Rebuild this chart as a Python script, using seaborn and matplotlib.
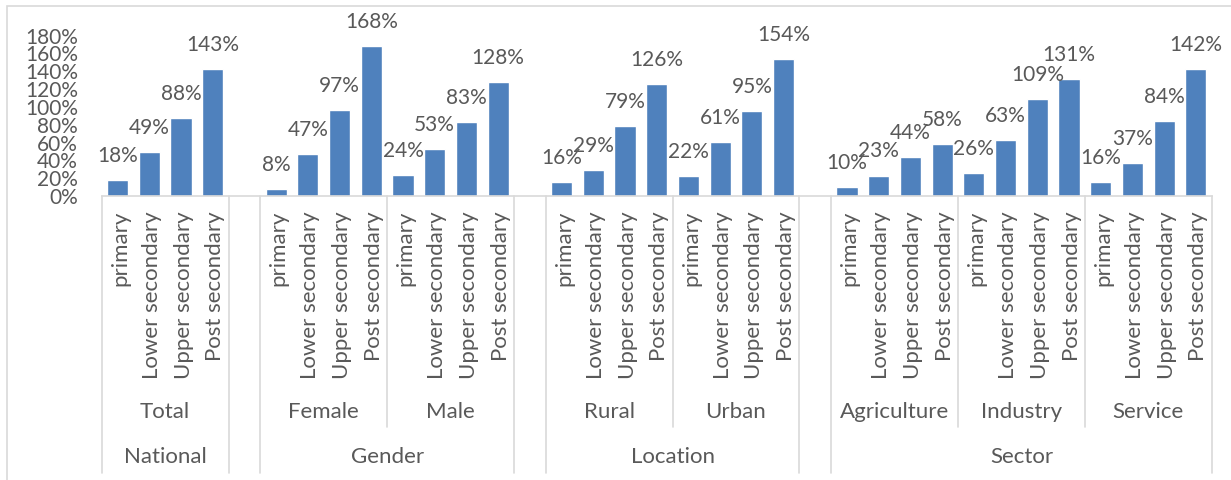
import matplotlib
matplotlib.use("Agg")
import matplotlib.pyplot as plt
import matplotlib.transforms as mtransforms
from matplotlib.patches import Rectangle
import seaborn as sns
import pandas as pd

# ---- data ----
levels = ["primary", "Lower secondary", "Upper secondary", "Post secondary"]
groups = ["National", "Gender", "Location", "Sector"]
subgroups = {
    "National": ["Total"],
    "Gender": ["Female", "Male"],
    "Location": ["Rural", "Urban"],
    "Sector": ["Agriculture", "Industry", "Service"],
}
total = [18, 49, 88, 143]
female = [8, 47, 97, 168]
male = [24, 53, 83, 128]
rural = [16, 29, 79, 126]
urban = [22, 61, 95, 154]
agriculture = [10, 23, 44, 58]
industry = [26, 63, 109, 131]
service = [16, 37, 84, 142]
values = {
    "Total": total, "Female": female, "Male": male, "Rural": rural,
    "Urban": urban, "Agriculture": agriculture, "Industry": industry,
    "Service": service,
}

# ---- build frame and category order (blank slot between top-level groups) ----
rows = []
order = []
sub_spans = []   # (name, start, end)
grp_spans = []   # (name, start, end)
for gi, g in enumerate(groups):
    if gi > 0:
        order.append(" " * gi)
    gstart = len(order)
    for s in subgroups[g]:
        sstart = len(order)
        for lev, v in zip(levels, values[s]):
            key = f"{s}|{lev}"
            order.append(key)
            rows.append({"key": key, "value": v, "level": lev})
        sub_spans.append((s, sstart, len(order) - 1))
    grp_spans.append((g, gstart, len(order) - 1))
df = pd.DataFrame(rows)

# ---- style ----
sns.set_style("white")
plt.rcParams["font.family"] = ["Lato", "DejaVu Sans"]
txt = "#595959"
line_c = "#D9D9D9"
fs_num = 15
fs_cat = 16

fig = plt.figure(figsize=(12.31, 4.8), dpi=100)
fig.patches.append(Rectangle((7 / 1231, -0.05), 1.0, (480 - 6) / 480 + 0.05,
                             transform=fig.transFigure, fill=False,
                             edgecolor=line_c, lw=1.2, zorder=0))
ax = fig.add_axes([101.7 / 1231, (480 - 196) / 480, 1110 / 1231, 160.4 / 480])

sns.barplot(data=df, x="key", y="value", order=order, color="#4F81BD",
            saturation=1, width=0.665, ax=ax, errorbar=None)

ax.set_xlim(-0.5, len(order) - 0.5)
ax.set_ylim(0, 180)
ax.set_xlabel("")
ax.set_ylabel("")
ax.set_xticks([])
ax.set_yticks(range(0, 181, 20))
ax.set_yticklabels([f"{v}%" for v in range(0, 181, 20)], fontsize=fs_num, color=txt)
ax.tick_params(axis="y", length=0, pad=17)
for side in ["top", "right", "left"]:
    ax.spines[side].set_visible(False)
ax.spines["bottom"].set_color(line_c)
ax.spines["bottom"].set_linewidth(1.2)

# data labels
for _, r in df.iterrows():
    x = order.index(r["key"])
    ax.annotate(f"{r['value']}%", (x, r["value"]), xytext=(0, 13),
                textcoords="offset points", ha="center", va="baseline",
                fontsize=fs_num, color=txt, annotation_clip=False)

# multi-level category axis
tr = mtransforms.blended_transform_factory(ax.transData, fig.transFigure)
for _, r in df.iterrows():
    x = order.index(r["key"])
    ax.text(x + 0.08, (480 - 211) / 480, r["level"], rotation=90, ha="center",
            va="top", fontsize=fs_cat, color=txt, transform=tr)
for name, a, b in sub_spans:
    ax.text((a + b) / 2, (480 - 412) / 480, name, ha="center", va="center",
            fontsize=fs_cat, color=txt, transform=tr)
for name, a, b in grp_spans:
    ax.text((a + b) / 2, (480 - 457) / 480, name, ha="center", va="center",
            fontsize=fs_cat, color=txt, transform=tr)

y_top = (480 - 196) / 480
y_short = (480 - 427) / 480
y_long = (480 - 473) / 480
long_x = {-0.5, len(order) - 0.5}
for name, a, b in grp_spans:
    long_x.add(a - 0.5)
    long_x.add(b + 0.5)
short_x = set()
for name, a, b in sub_spans:
    for xx in (a - 0.5, b + 0.5):
        if xx not in long_x:
            short_x.add(xx)
for xx in long_x:
    ax.plot([xx, xx], [y_top, y_long], color=line_c, lw=1.2, transform=tr, clip_on=False)
for xx in short_x:
    ax.plot([xx, xx], [y_top, y_short], color=line_c, lw=1.2, transform=tr, clip_on=False)

fig.savefig("out.png", dpi=100)
